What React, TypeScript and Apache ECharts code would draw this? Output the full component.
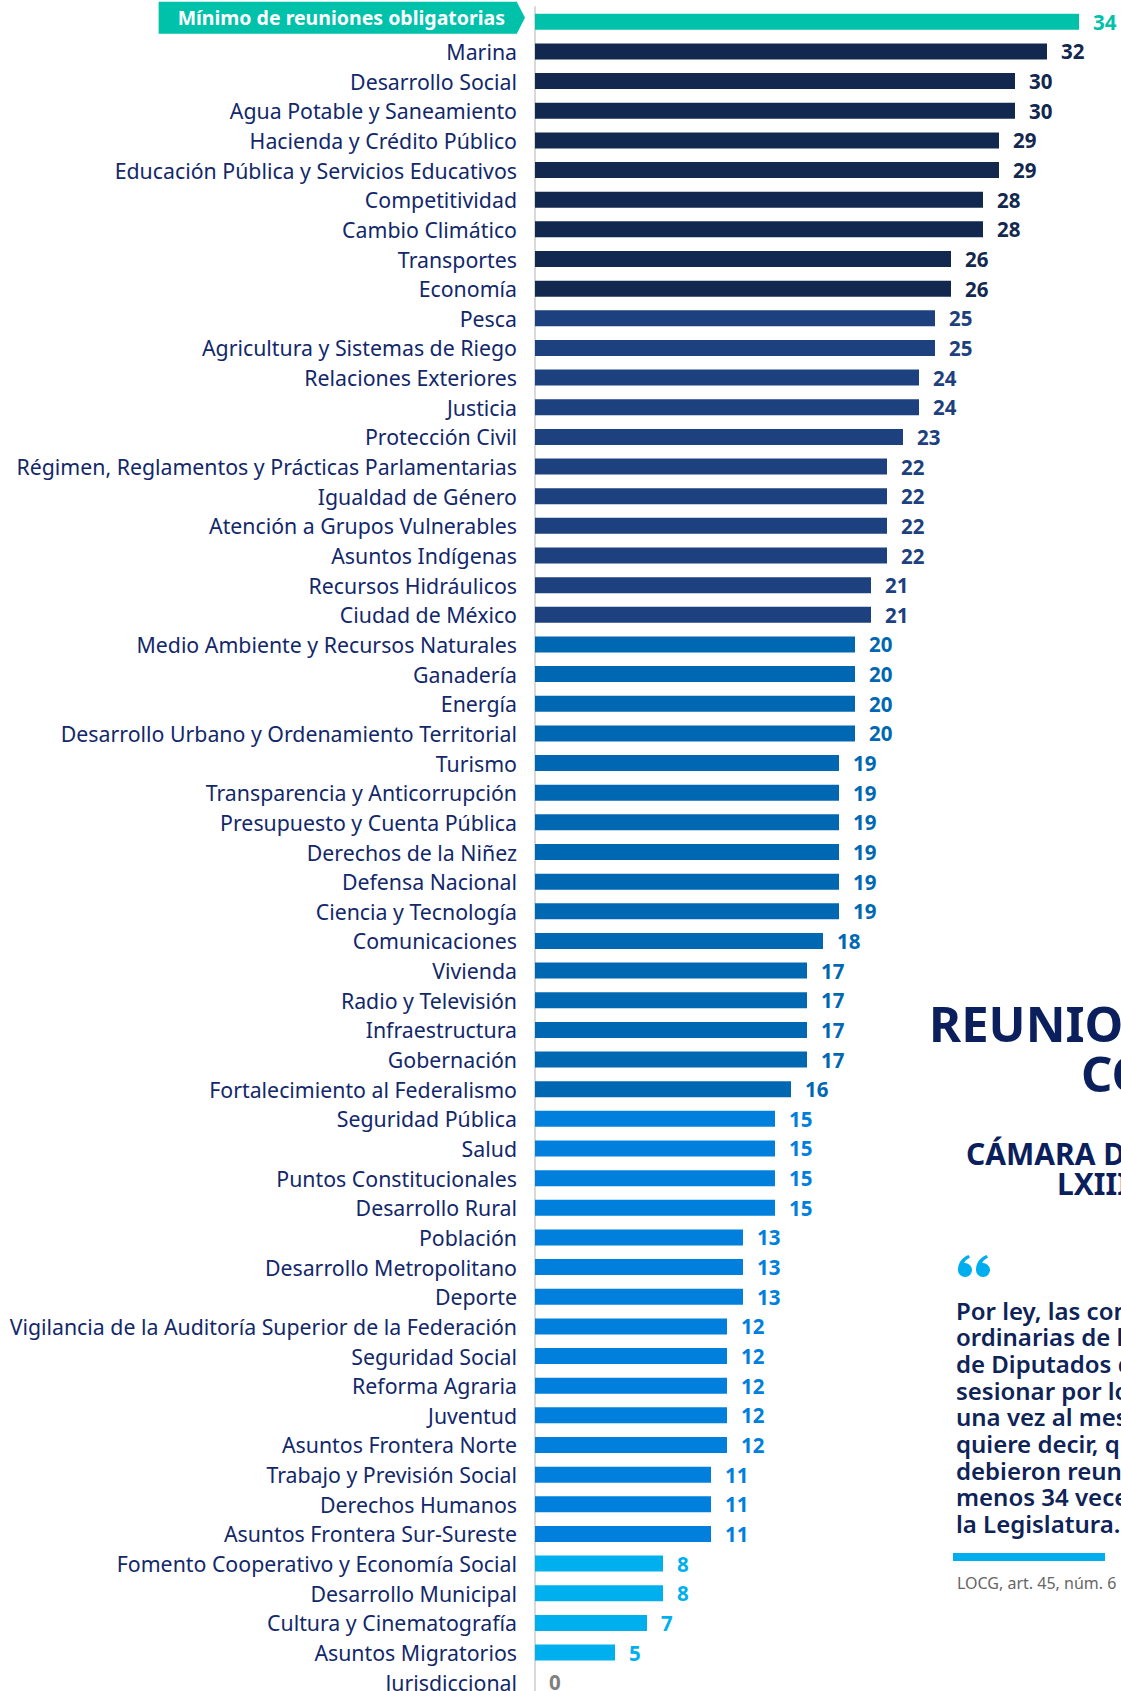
import React, { useEffect, useRef } from "react";
import * as echarts from "echarts";

const categories = [
  "Mínimo de reuniones obligatorias",
  "Marina",
  "Desarrollo Social",
  "Agua Potable y Saneamiento",
  "Hacienda y Crédito Público",
  "Educación Pública y Servicios Educativos",
  "Competitividad",
  "Cambio Climático",
  "Transportes",
  "Economía",
  "Pesca",
  "Agricultura y Sistemas de Riego",
  "Relaciones Exteriores",
  "Justicia",
  "Protección Civil",
  "Régimen, Reglamentos y Prácticas Parlamentarias",
  "Igualdad de Género",
  "Atención a Grupos Vulnerables",
  "Asuntos Indígenas",
  "Recursos Hidráulicos",
  "Ciudad de México",
  "Medio Ambiente y Recursos Naturales",
  "Ganadería",
  "Energía",
  "Desarrollo Urbano y Ordenamiento Territorial",
  "Turismo",
  "Transparencia y Anticorrupción",
  "Presupuesto y Cuenta Pública",
  "Derechos de la Niñez",
  "Defensa Nacional",
  "Ciencia y Tecnología",
  "Comunicaciones",
  "Vivienda",
  "Radio y Televisión",
  "Infraestructura",
  "Gobernación",
  "Fortalecimiento al Federalismo",
  "Seguridad Pública",
  "Salud",
  "Puntos Constitucionales",
  "Desarrollo Rural",
  "Población",
  "Desarrollo Metropolitano",
  "Deporte",
  "Vigilancia de la Auditoría Superior de la Federación",
  "Seguridad Social",
  "Reforma Agraria",
  "Juventud",
  "Asuntos Frontera Norte",
  "Trabajo y Previsión Social",
  "Derechos Humanos",
  "Asuntos Frontera Sur-Sureste",
  "Fomento Cooperativo y Economía Social",
  "Desarrollo Municipal",
  "Cultura y Cinematografía",
  "Asuntos Migratorios",
  "Jurisdiccional",
];

const values = [
  34, 32, 30, 30, 29, 29, 28, 28, 26, 26, 25, 25, 24, 24, 23, 22, 22, 22, 22,
  21, 21, 20, 20, 20, 20, 19, 19, 19, 19, 19, 19, 18, 17, 17, 17, 17, 16, 15,
  15, 15, 15, 13, 13, 13, 12, 12, 12, 12, 12, 11, 11, 11, 8, 8, 7, 5, 0,
];

const titleLines = ["REUNIONES DE", "COMISIONES"];
const subtitleLines = ["CÁMARA DE DIPUTADOS", "LXIII LEGISLATURA"];
const quoteLines = [
  "Por ley, las comisiones",
  "ordinarias de la Cámara",
  "de Diputados deben",
  "sesionar por lo menos",
  "una vez al mes. Esto",
  "quiere decir, que",
  "debieron reunirse al",
  "menos 34 veces durante",
  "la Legislatura.",
];
const sourceNote = "LOCG, art. 45, núm. 6";

const TEAL = "#00c2aa";
const NAVY = "#13284f";
const FONT = "Noto Sans";

// heavy "66" opening quote mark, two bulbs with tails
const QUOTE_PATH =
  "M0 15 C0 8 4 2.5 10.5 0 L12 2.6 C8.6 4.4 6.6 6.6 6.2 8.1 A7 7 0 1 1 0 15 Z " +
  "M18 15 C18 8 22 2.5 28.5 0 L30 2.6 C26.6 4.4 24.6 6.6 24.2 8.1 A7 7 0 1 1 18 15 Z";
echarts.graphic.registerShape(
  "quoteMark",
  echarts.graphic.extendPath(QUOTE_PATH, {}) as any
);

function barColor(i: number, v: number): string {
  if (i === 0) return TEAL;
  if (v >= 26) return NAVY;
  if (v >= 21) return "#1c417e";
  if (v >= 16) return "#0068b3";
  if (v >= 11) return "#0080dc";
  return "#00b0ee";
}

function labelColor(i: number, v: number): string {
  if (v === 0) return "#808080";
  return barColor(i, v);
}

export default function App() {
  const ref = useRef<HTMLDivElement>(null);

  useEffect(() => {
    const chart = echarts.init(ref.current!, null, { renderer: "svg" });
    const option: any = {
      animation: false,
      backgroundColor: "#ffffff",
      grid: {
        left: 535,
        top: 7,
        width: 576,
        height: 1690,
        containLabel: false,
        outerBoundsMode: "none",
      },
      xAxis: {
        type: "value",
        min: 0,
        max: 36,
        show: false,
      },
      yAxis: {
        type: "category",
        data: categories,
        inverse: true,
        axisLine: { show: true, lineStyle: { color: "#d9d9d9", width: 2 } },
        axisTick: { show: false },
        axisLabel: {
          margin: 18,
          fontFamily: FONT,
          fontSize: 21.3,
          color: "#12286a",
          formatter: (val: string, idx: number) =>
            idx === 0 ? "{tag|" + val + "}\n{sp|}" : val,
          rich: {
            tag: {
              color: "#ffffff",
              fontFamily: FONT,
              fontWeight: "bold",
              fontSize: 19.5,
              lineHeight: 21,
              backgroundColor: TEAL,
              padding: [6, 12, 6, 19],
            },
            sp: { fontSize: 8, lineHeight: 8 },
          },
        },
      },
      series: [
        {
          type: "bar",
          barWidth: 16,
          data: values.map((v, i) => ({
            value: v,
            itemStyle: { color: barColor(i, v) },
            label: { color: labelColor(i, v) },
          })),
          label: {
            show: true,
            position: "right",
            distance: 14,
            fontFamily: FONT,
            fontWeight: "bold",
            fontSize: 20.5,
          },
        },
      ],
    };
    chart.setOption(option);

    const y0 = (chart.convertToPixel({ yAxisIndex: 0 }, categories[0]) as number) - 4;
    const xAxisPx = chart.convertToPixel({ xAxisIndex: 0 }, 0) as number;
    const tagRight = xAxisPx - 18;

    const elements: any[] = [
      {
        type: "polygon",
        shape: {
          points: [
            [tagRight - 0.5, y0 - 16.5],
            [tagRight + 8, y0],
            [tagRight - 0.5, y0 + 16.5],
          ],
        },
        style: { fill: TEAL },
      },
    ];
    titleLines.forEach((t, i) => {
      elements.push({
        type: "text",
        x: i === 0 ? 929 : 1081,
        y: 1023 + i * 50,
        style: {
          text: t,
          fill: "#0a1f5c",
          font: `bold 49px "${FONT}"`,
          verticalAlign: "middle",
        },
      });
    });
    subtitleLines.forEach((t, i) => {
      elements.push({
        type: "text",
        x: i === 0 ? 966 : 1057,
        y: 1153 + i * 30,
        style: {
          text: t,
          fill: "#0a1f5c",
          font: `bold 30px "${FONT}"`,
          verticalAlign: "middle",
        },
      });
    });
    elements.push({
      type: "quoteMark",
      x: 958,
      y: 1255,
      style: { fill: "#00aeef" },
    });
    quoteLines.forEach((t, i) => {
      elements.push({
        type: "text",
        x: 956,
        y: 1310 + i * 26.7,
        style: {
          text: t,
          fill: "#0e2357",
          font: `600 24px "${FONT}"`,
          verticalAlign: "middle",
        },
      });
    });
    elements.push({
      type: "rect",
      shape: { x: 953, y: 1553, width: 152, height: 8 },
      style: { fill: "#00aeef" },
    });
    elements.push({
      type: "text",
      x: 957,
      y: 1583,
      style: {
        text: sourceNote,
        fill: "#666666",
        font: `16px "${FONT}"`,
        verticalAlign: "middle",
      },
    });

    chart.setOption({ graphic: { elements } });

    return () => chart.dispose();
  }, []);

  return (
    <div
      ref={ref}
      style={{ position: "absolute", left: 0, top: 0, width: 1121, height: 1691 }}
    />
  );
}
